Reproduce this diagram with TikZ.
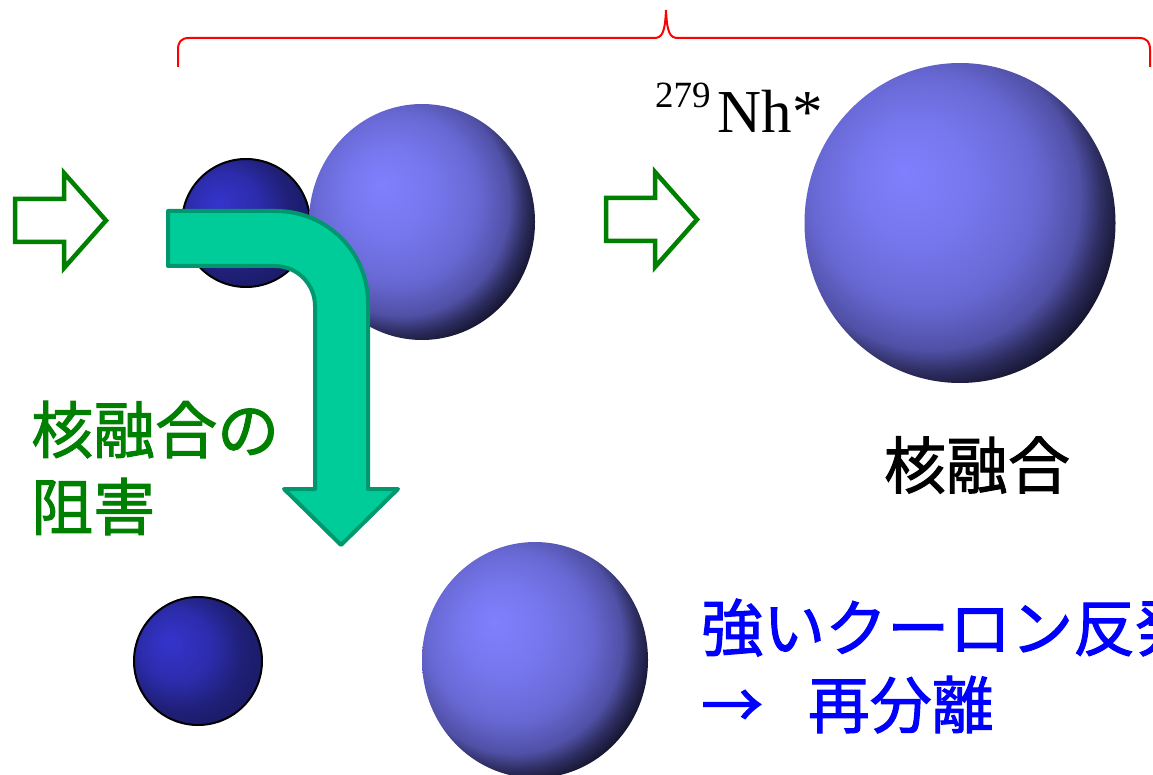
\documentclass[tikz,border=0pt]{standalone}
\usepackage{fontspec}
\setmainfont{Liberation Serif}
\newfontfamily\jpfont[FakeBold=1.6]{Noto Sans CJK JP}
\usetikzlibrary{shapes.geometric}

\definecolor{ballhi}{RGB}{128,128,255}
\definecolor{ballmid}{RGB}{118,118,236}
\definecolor{ballside}{RGB}{104,104,212}
\definecolor{balldim}{RGB}{80,80,166}
\definecolor{balldark}{RGB}{45,45,96}
\definecolor{ballrim}{RGB}{10,10,26}
\definecolor{projhi}{RGB}{52,52,205}
\definecolor{projmid}{RGB}{44,44,172}
\definecolor{projdim}{RGB}{31,31,118}
\definecolor{projrim}{RGB}{25,25,96}
\definecolor{flowfill}{RGB}{0,204,153}
\definecolor{flowline}{RGB}{0,150,110}
\definecolor{hindgreen}{RGB}{0,128,0}

\pgfdeclareradialshading{lightball}{\pgfpoint{-9bp}{8bp}}{%
  color(0bp)=(ballhi); color(10bp)=(ballmid); color(18bp)=(ballside);
  color(24bp)=(balldim); color(27bp)=(balldark); color(31bp)=(ballrim);
  color(50bp)=(black)}
\pgfdeclareradialshading{darkball}{\pgfpoint{-12bp}{8bp}}{%
  color(0bp)=(projhi); color(14bp)=(projmid); color(24bp)=(projdim);
  color(34bp)=(projrim); color(50bp)=(projrim)}

\begin{document}
\begin{tikzpicture}[x=1pt, y=-1pt,
    target/.style={ellipse, inner sep=0pt, shading=lightball, minimum width=226pt, minimum height=236pt},
    projectile/.style={circle, inner sep=0pt, shading=darkball, draw=black, line width=2pt, minimum size=128pt},
    hollowarrow/.style={draw=hindgreen, line width=4.5pt, fill=white},
    bentarrow/.style={draw=flowline, line width=4pt, fill=flowfill, line join=round},
    jptext/.style={inner sep=0pt, font=\jpfont\fontsize{62pt}{77pt}\selectfont}]
    \useasboundingbox (0,0) rectangle (1153,775);

    \coordinate (projin)   at (246, 223);
    \coordinate (targin)   at (422, 222);
    \coordinate (compound) at (960, 223);
    \coordinate (projout)  at (198, 661);
    \coordinate (targout)  at (535, 660);

    % bracket over the approach and the fused system
    \draw[red, line width=2pt] (178,67) -- (178,50) .. controls (178,42) and (181,38) .. (189,38) -- (654,38) .. controls (662,38) and (665,33) .. (666,10) .. controls (667,33) and (670,38) .. (678,38) -- (1139,38) .. controls (1147,38) and (1150,42) .. (1150,50) -- (1150,67);

    \node[projectile] (PRJ) at (projin) {};
    \node[target] (TGT) at (targin) {};
    \node[target, minimum width=311pt, minimum height=320pt] (CN) at (compound) {};
    \node[projectile] (PRJ2) at (projout) {};
    \node[target] (TGT2) at (targout) {};

    \foreach \ax/\ay in {15/199, 606/198}
        \draw[hollowarrow] (\ax,\ay) -- ++(49,0) -- ++(0,-26) -- ++(42,47.5) -- ++(-42,47.5) -- ++(0,-26) -- ++(-49,0) -- cycle;

    \draw[bentarrow] (168,211) -- (276,211) .. controls (327,211) and (368,252) .. (368,303) -- (368,489) -- (398,489) -- (341,545) -- (284,489) -- (315,489) -- (315,306) .. controls (315,284) and (297,266) .. (275,266) -- (168,266) -- cycle;

    \node[anchor=base west, inner sep=0pt, font=\fontsize{61pt}{62pt}\selectfont] (NH) at (655,133) {\raisebox{25pt}{\fontsize{37pt}{37pt}\selectfont 279}\kern7pt Nh*};
    \node[jptext] (FUS) at (977,465) {核融合};
    \node[jptext, text=hindgreen, align=left, anchor=west] (HIN) at (31,468) {核融合の\\阻害};
    \node[jptext, text=blue, align=left, anchor=west] (SEP) at (701,666) {強いクーロン反発\\→\hspace{0.72em}再分離};
\end{tikzpicture}
\end{document}
